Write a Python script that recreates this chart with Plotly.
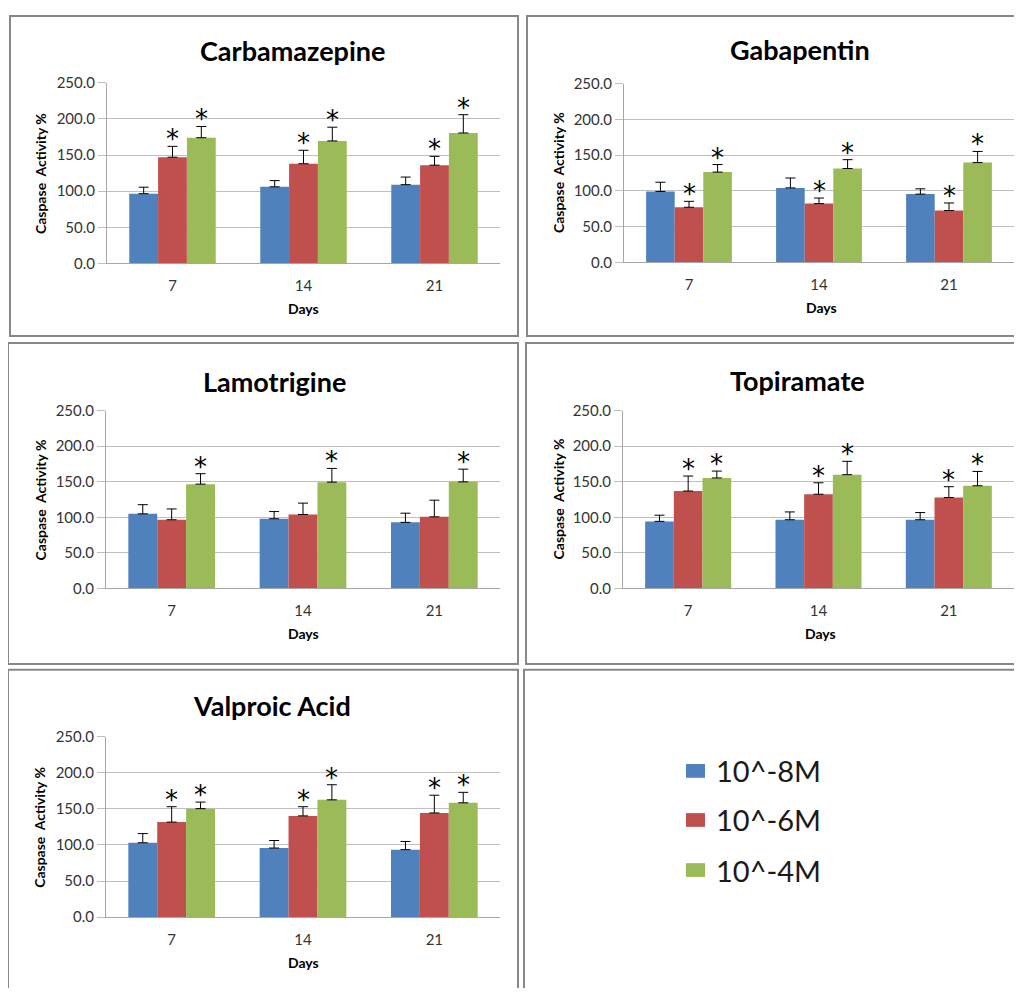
import plotly.graph_objects as go

# Page is 1022x996 with the browser's default 8px body margin -> figure is 1006x980
OFF = 8
W, H = 1022 - 2 * OFF, 996 - 2 * OFF

days = ["7", "14", "21"]
series_names = ["10^-8M", "10^-6M", "10^-4M"]
colors = ["#4F81BD", "#C0504D", "#9BBB59"]
drugs = ["Carbamazepine", "Gabapentin", "Lamotrigine", "Topiramate", "Valproic Acid"]

# values[drug] = [blue(10^-8M), red(10^-6M), green(10^-4M)] each across days 7, 14, 21
carbamazepine_vals = [[96.5, 106.0, 109.0], [147.0, 138.0, 136.0], [174.0, 169.5, 180.5]]
carbamazepine_err = [[9.0, 8.6, 10.5], [15.0, 18.6, 12.2], [15.5, 19.0, 25.3]]
gabapentin_vals = [[99.3, 104.3, 95.6], [77.2, 82.3, 72.6], [126.4, 131.4, 139.7]]
gabapentin_err = [[12.9, 13.8, 7.4], [8.3, 7.8, 10.6], [10.6, 12.4, 15.6]]
lamotrigine_vals = [[104.8, 97.9, 92.8], [96.5, 103.9, 100.6], [146.6, 149.4, 149.8]]
lamotrigine_err = [[12.9, 10.1, 12.9], [15.2, 16.0, 23.4], [14.7, 19.3, 17.9]]
topiramate_vals = [[94.2, 96.5, 96.5], [136.9, 132.4, 127.8], [155.3, 159.9, 144.3]]
topiramate_err = [[8.7, 11.0, 10.1], [21.1, 16.1, 15.2], [9.7, 18.8, 20.2]]
valproic_vals = [[103.0, 95.7, 93.5], [131.6, 140.2, 144.3], [150.2, 162.4, 158.3]]
valproic_err = [[12.7, 10.4, 11.3], [21.3, 12.7, 24.5], [9.1, 20.9, 14.5]]

# significance stars per series (blue, red, green)
carbamazepine_star = [False, True, True]
gabapentin_star = [False, True, True]
lamotrigine_star = [False, False, True]
topiramate_star = [False, True, True]
valproic_star = [False, True, True]

y_ticks = [0, 50, 100, 150, 200, 250]
y_tick_labels = ["0.0", "50.0", "100.0", "150.0", "200.0", "250.0"]

panel_data = [
    (carbamazepine_vals, carbamazepine_err, carbamazepine_star),
    (gabapentin_vals, gabapentin_err, gabapentin_star),
    (lamotrigine_vals, lamotrigine_err, lamotrigine_star),
    (topiramate_vals, topiramate_err, topiramate_star),
    (valproic_vals, valproic_err, valproic_star),
]

# layout geometry in page pixels: plot area (x0, x1, ytop, ybottom), title center (x, y), box (x0, y0, x1, y1)
panels = [
    dict(plot=(107, 500, 74, 258), title=(292, 41), box=(10, 6, 518, 332), ytitle_x=40),
    dict(plot=(624, 1018, 75, 257), title=(800, 40), box=(527, 6, 1040, 332), ytitle_x=558),
    dict(plot=(106, 500, 408, 589), title=(274, 378), box=(8, 339, 518, 666), ytitle_x=40),
    dict(plot=(623, 1018, 408, 589), title=(797, 377), box=(526, 339, 1040, 666), ytitle_x=558),
    dict(plot=(106, 500, 740, 924), title=(272, 708), box=(8, 672, 518, 1020), ytitle_x=40),
]


def px(x):
    return (x - OFF) / W


def py(y):
    return 1 - (y - OFF) / H


FONT = "Lato"
fig = go.Figure()
annotations = []
shapes = []
bargap = 0.34
bw = (1 - bargap) / 3

for i, (pd_, geo) in enumerate(zip(panel_data, panels)):
    vals, errs, stars = pd_
    n = i + 1
    xa = "x" if n == 1 else f"x{n}"
    ya = "y" if n == 1 else f"y{n}"
    for k in range(3):
        fig.add_trace(go.Bar(
            x=days, y=vals[k], name=series_names[k],
            marker=dict(color=colors[k], line=dict(width=0)),
            error_y=dict(type="data", symmetric=False, array=errs[k],
                         arrayminus=[0] * len(days), color="black", thickness=1, width=5),
            xaxis=xa, yaxis=ya, showlegend=False, hoverinfo="skip",
        ))
        if stars[k]:
            for j in range(len(days)):
                annotations.append(dict(
                    x=j + (k - 1) * bw, y=vals[k][j] + errs[k][j], xref=xa, yref=ya,
                    text="*", showarrow=False, yanchor="bottom", yshift=-10,
                    font=dict(family="DejaVu Sans", size=26, color="black"),
                ))
    x0, x1, yt, yb = geo["plot"]
    lay_x = "xaxis" if n == 1 else f"xaxis{n}"
    lay_y = "yaxis" if n == 1 else f"yaxis{n}"
    fig.layout[lay_x] = dict(
        domain=[max(0, px(x0)), min(1, px(x1))], anchor=ya, type="category",
        showline=True, linecolor="#A6A6A6", linewidth=1,
        ticks="outside", ticklen=9, tickcolor="rgba(0,0,0,0)",
        showgrid=False, tickfont=dict(family=FONT, size=15, color="#333333"),
        range=[-0.5, 2.5], fixedrange=True,
    )
    fig.layout[lay_y] = dict(
        domain=[py(yb), py(yt)], anchor=xa, range=[0, 250],
        tickvals=y_ticks, ticktext=y_tick_labels,
        showline=True, linecolor="#A6A6A6", linewidth=1,
        ticks="outside", ticklen=8, tickcolor="#BFBFBF",
        showgrid=True, gridcolor="#BFBFBF", gridwidth=1, zeroline=False,
        tickfont=dict(family=FONT, size=15, color="#333333"), fixedrange=True,
    )
    # titles
    tx, ty = geo["title"]
    annotations.append(dict(x=px(tx), y=py(ty), xref="paper", yref="paper", text=f"<b>{drugs[i]}</b>",
                            showarrow=False, xanchor="center", yanchor="middle",
                            font=dict(family=FONT, size=27, color="black")))
    annotations.append(dict(x=px(geo["ytitle_x"]), y=py((yt + yb) / 2), xref="paper", yref="paper",
                            text="<b>Caspase  Activity %</b>", textangle=-90, showarrow=False,
                            xanchor="center", yanchor="middle",
                            font=dict(family=FONT, size=14, color="black")))
    annotations.append(dict(x=px((x0 + x1) / 2), y=py(yb + 46), xref="paper", yref="paper",
                            text="<b>Days</b>", showarrow=False, xanchor="center", yanchor="middle",
                            font=dict(family=FONT, size=14, color="black")))
    bx0, by0, bx1, by1 = geo["box"]
    shapes.append(dict(type="rect", xref="paper", yref="paper", x0=px(bx0), x1=px(bx1),
                       y0=py(by1), y1=py(by0), line=dict(color="#888888", width=2)))

# legend panel box
shapes.append(dict(type="rect", xref="paper", yref="paper", x0=px(524), x1=px(1040),
                   y0=py(1020), y1=py(672), line=dict(color="#888888", width=2)))
legend_y = [775, 825, 876]
for k in range(3):
    shapes.append(dict(type="rect", xref="paper", yref="paper", x0=px(686), x1=px(705),
                       y0=py(legend_y[k] + 7), y1=py(legend_y[k] - 7),
                       fillcolor=colors[k], line=dict(width=0)))
    annotations.append(dict(x=px(714), y=py(legend_y[k]), xref="paper", yref="paper",
                            text=series_names[k], showarrow=False, xanchor="left", yanchor="middle",
                            font=dict(family=FONT, size=29, color="#1a1a1a")))

fig.update_layout(
    width=W, height=H, autosize=False,
    margin=dict(l=0, r=0, t=0, b=0),
    paper_bgcolor="white", plot_bgcolor="white",
    barmode="group", bargap=bargap, bargroupgap=0,
    annotations=annotations, shapes=shapes,
    showlegend=False,
)

fig.write_html("out.html", config={"displayModeBar": False})
